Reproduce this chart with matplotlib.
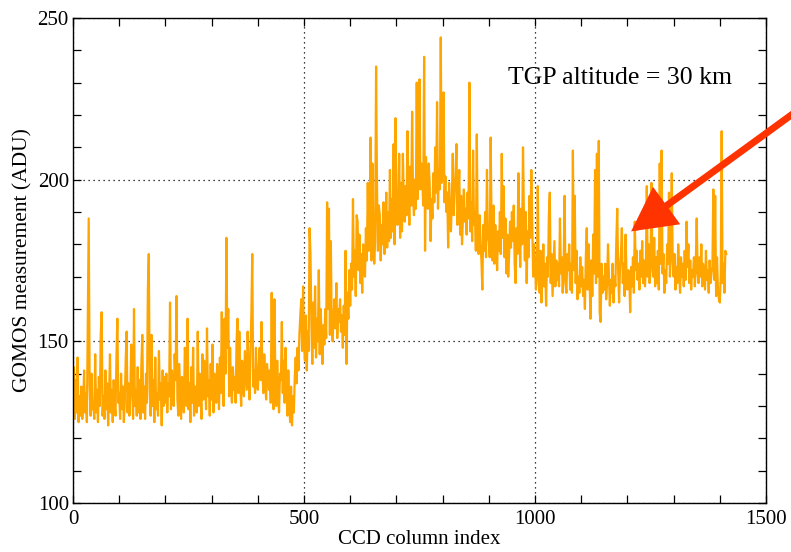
import numpy as np
import matplotlib
matplotlib.use("Agg")
import matplotlib.pyplot as plt
from matplotlib.ticker import MultipleLocator

# CCD column sampling step (every 2nd column)
column_step = 2

# GOMOS measurement (ADU), rows of 25 samples (50 columns each)
adu_0_450 = [
    131,142,126,138,128,145,125,133,127,136,126,130,141,128,134,125,158,188,136,127,140,129,131,126,146,
    128,135,125,139,130,152,159,127,133,126,141,129,137,124,132,146,128,135,125,138,130,127,145,157,131,
    134,126,140,129,136,125,131,144,153,128,137,127,133,149,139,126,160,130,135,127,142,128,138,126,143,
    152,128,136,126,140,131,166,177,135,127,152,130,138,125,145,129,134,127,147,132,137,124,141,130,139,
    131,140,128,137,133,162,129,141,135,130,146,138,164,132,127,143,134,126,139,136,128,148,145,130,157,
    129,137,125,142,131,148,127,136,133,128,153,130,140,134,126,146,132,144,137,129,154,133,138,127,143,
    132,149,128,140,135,131,143,137,129,145,134,159,138,130,157,140,182,148,160,133,148,136,131,142,135,
    139,131,150,157,134,153,137,130,144,138,133,147,141,135,153,139,132,146,158,177,136,141,134,148,138,
    135,142,148,138,156,140,134,146,137,132,143,139,135,141,131,165,136,129,163,138,130,144,133,128,140,
]
adu_450_700 = [
    138,156,134,144,131,148,135,127,141,130,125,136,124,133,128,139,145,137,148,141,152,158,163,147,167,
    150,144,158,141,153,147,185,177,155,143,162,148,167,145,157,150,172,146,160,152,143,155,149,160,151,
    193,160,191,152,181,155,150,158,163,154,168,151,160,156,163,153,158,148,161,152,178,143,165,157,172,
    161,174,166,194,170,178,164,189,187,172,183,168,177,165,180,171,170,185,175,199,178,182,213,175,205,
    183,174,181,235,198,178,192,189,175,186,180,193,177,183,196,179,190,181,203,182,194,184,211,180,219,
]
adu_700_950 = [
    195,186,190,208,182,199,184,208,193,187,198,189,215,197,186,204,192,221,195,189,200,191,230,194,202,
    231,197,205,200,192,238,178,207,196,191,205,199,181,194,188,202,193,210,196,224,191,203,197,244,199,
    205,227,193,201,190,196,179,199,190,184,194,208,189,196,201,211,186,192,203,183,195,180,188,197,187,
    191,183,196,188,230,184,193,181,209,186,190,178,214,183,177,189,181,175,166,186,178,190,176,203,182,
    181,176,213,185,175,192,174,186,180,172,184,178,190,177,208,182,198,176,188,171,183,170,177,187,179,
]
adu_950_1200 = [
    190,181,192,174,168,185,177,202,186,173,191,180,210,189,175,190,168,184,176,195,182,203,187,170,180,
    175,166,169,198,172,165,178,162,170,180,167,174,161,176,170,189,196,168,177,164,173,181,167,175,169,
    174,167,188,171,176,165,173,195,168,165,177,172,180,166,174,165,209,172,195,168,178,163,170,165,176,
    167,173,164,169,160,176,185,166,180,170,157,175,164,183,171,203,168,208,170,212,159,156,174,165,170,
    166,174,163,168,180,171,161,169,165,174,162,170,167,181,191,172,162,173,177,185,168,174,164,183,170,
]
adu_1200_1415 = [
    166,172,170,159,173,167,176,165,187,172,178,169,174,166,178,170,181,168,175,167,173,198,170,180,168,
    172,199,175,170,182,167,176,168,178,166,205,174,209,171,177,165,172,168,180,174,196,170,178,202,175,
    170,177,166,173,168,180,172,165,176,170,174,167,178,169,187,173,180,168,175,166,172,170,176,167,174,
    188,171,168,176,170,180,167,174,170,166,178,169,172,165,175,168,171,173,197,169,195,164,176,166,163,
    162,170,215,168,174,165,178,177,
]

adu = adu_0_450 + adu_450_700 + adu_700_950 + adu_950_1200 + adu_1200_1415
columns = np.arange(len(adu)) * column_step

x_ticks = [0, 500, 1000, 1500]
y_ticks = [100, 150, 200, 250]
annotation_text = "TGP altitude = 30 km"
arrow_tip = (1208, 184)
arrow_tail = (1574, 222)

plt.rcParams['font.family'] = ['Liberation Serif', 'DejaVu Serif']

fig = plt.figure(figsize=(7.91, 5.52), dpi=100)
ax = fig.add_axes([0.0923, 0.0888, 0.8761, 0.8786])

ax.plot(columns, adu, color='#FFA500', lw=1.6)

ax.set_xlim(0, 1500)
ax.set_ylim(100, 250)
ax.set_xticks(x_ticks)
ax.set_yticks(y_ticks)
ax.xaxis.set_minor_locator(MultipleLocator(100))
ax.yaxis.set_minor_locator(MultipleLocator(10))
ax.tick_params(which='both', direction='in', top=True, right=True,
               length=6, width=0.9, labelsize=15)
ax.tick_params(axis='x', pad=5)
ax.tick_params(axis='y', pad=3)
ax.grid(True, which='major', color='black', linestyle=(0, (1, 3)), lw=0.9)

for s in ax.spines.values():
    s.set_linewidth(1.0)

ax.set_xlabel("CCD column index", fontsize=15, labelpad=1)
ax.set_ylabel("GOMOS measurement (ADU)", fontsize=15.5, labelpad=4)

ax.text(1184, 231.5, annotation_text, fontsize=18.5, ha='center', va='center')

ax.annotate("", xy=arrow_tip, xytext=arrow_tail, annotation_clip=False,
            arrowprops=dict(arrowstyle='-|>,head_length=0.95,head_width=0.5',
                            lw=5, color='#FF3300', mutation_scale=25,
                            shrinkA=0, shrinkB=0, joinstyle='miter'))

fig.savefig("out.png", dpi=100)
